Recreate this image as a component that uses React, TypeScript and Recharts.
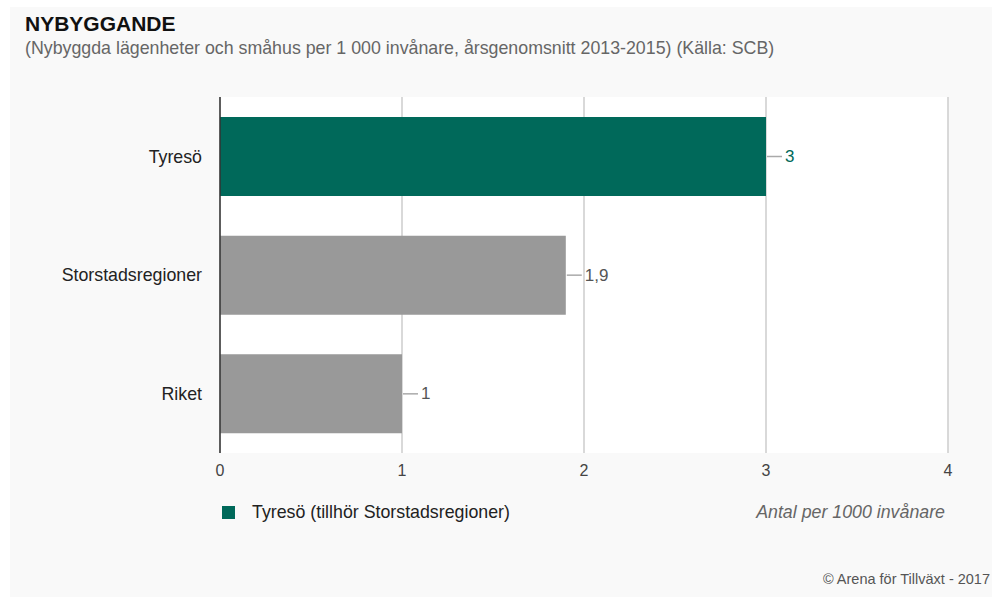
import { BarChart, Bar, XAxis, YAxis, CartesianGrid, Cell, LabelList } from "recharts";

const categories = ["Tyresö", "Storstadsregioner", "Riket"];
const values = [3, 1.9, 1];
const barColors = ["#00695a", "#999999", "#999999"];
const xTicks = [0, 1, 2, 3, 4];

const data = categories.map((name, i) => ({ name, value: values[i] }));

const font = "'Liberation Sans', Arial, sans-serif";

const ValueLabel = (props: any) => {
  const { x, y, width, height, value, index } = props;
  const x0 = Number(x) + Number(width);
  const cy = Number(y) + Number(height) / 2;
  return (
    <g>
      <line x1={x0 + 1} x2={x0 + 16} y1={cy} y2={cy} stroke="#aaaaaa" strokeWidth={1.5} />
      <text
        x={x0 + 19}
        y={cy}
        dominantBaseline="central"
        fontSize={17}
        fontFamily={font}
        fill={index === 0 ? "#00695a" : "#555555"}
      >
        {String(value).replace(".", ",")}
      </text>
    </g>
  );
};

export default function App() {
  return (
    <div
      style={{
        position: "absolute",
        left: 10,
        top: 7,
        width: 982,
        height: 590,
        background: "#f9f9f9",
        fontFamily: font,
      }}
    >
      <div style={{ position: "absolute", left: 15, top: 6, fontSize: 21, lineHeight: 1, fontWeight: "bold", color: "#111" }}>
        NYBYGGANDE
      </div>
      <div style={{ position: "absolute", left: 15, top: 33, fontSize: 17.8, lineHeight: 1, color: "#666" }}>
        (Nybyggda lägenheter och småhus per 1 000 invånare, årsgenomsnitt 2013-2015) (Källa: SCB)
      </div>

      <BarChart
        width={982}
        height={590}
        data={data}
        layout="vertical"
        barCategoryGap={20}
        margin={{ top: 90, right: 44, left: 0, bottom: 114 }}
      >
        <CartesianGrid fill="#ffffff" horizontal={false} stroke="#cccccc" strokeWidth={1.5} />
        <XAxis
          type="number"
          domain={[0, 4]}
          ticks={xTicks}
          height={30}
          axisLine={false}
          tickLine={false}
          tickMargin={6}
          tick={{ fontSize: 16, fill: "#444", fontFamily: font }}
        />
        <YAxis
          type="category"
          dataKey="name"
          width={210}
          axisLine={{ stroke: "#333333", strokeWidth: 1.5 }}
          tickLine={false}
          tickMargin={12}
          tick={{ fontSize: 17.8, fill: "#222", fontFamily: font }}
        />
        <Bar dataKey="value" isAnimationActive={false}>
          {data.map((d, i) => (
            <Cell key={d.name} fill={barColors[i]} />
          ))}
          <LabelList dataKey="value" content={ValueLabel} />
        </Bar>
      </BarChart>

      <div style={{ position: "absolute", left: 212, top: 499, width: 13, height: 13, background: "#00695a" }} />
      <div style={{ position: "absolute", left: 242, top: 497, fontSize: 17.8, lineHeight: 1, color: "#222" }}>
        Tyresö (tillhör Storstadsregioner)
      </div>
      <div
        style={{
          position: "absolute",
          right: 47,
          top: 497,
          fontSize: 17.8,
          lineHeight: 1,
          fontStyle: "italic",
          color: "#666",
        }}
      >
        Antal per 1000 invånare
      </div>
      <div style={{ position: "absolute", right: 2, top: 565, fontSize: 14.5, lineHeight: 1, color: "#555" }}>
        © Arena för Tillväxt - 2017
      </div>
    </div>
  );
}
